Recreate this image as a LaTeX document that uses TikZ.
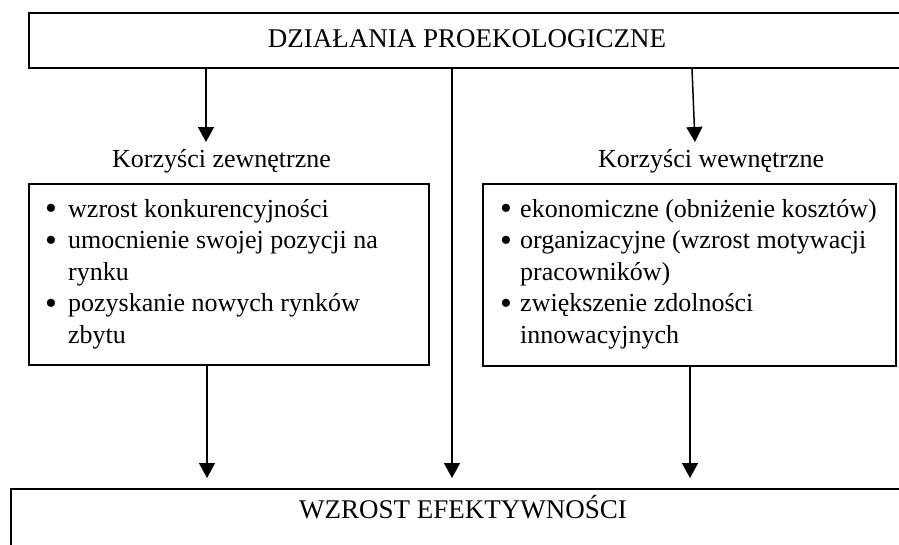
\documentclass[tikz,border=0pt]{standalone}
\usepackage{fontspec}
\usepackage{graphicx}
\setmainfont{Liberation Serif}
\usetikzlibrary{arrows.meta}
\newcommand{\bigbul}{\raisebox{-2.5pt}{\scalebox{1.3}{•}}}
\begin{document}
\begin{tikzpicture}[x=1pt,y=-1pt,
  box/.style={draw, line width=2pt, rectangle, inner sep=0pt, anchor=north west},
  head/.style={font=\fontsize{27}{32}\selectfont, inner sep=0pt, anchor=base},
  lab/.style={font=\fontsize{26}{31}\selectfont, inner sep=0pt, anchor=base west},
  list/.style={font=\fontsize{26}{31.5}\selectfont, inner sep=0pt, anchor=base west},
  arr/.style={line width=1.5pt, -{Triangle[length=15pt,width=16pt]}}]
\useasboundingbox (0,0) rectangle (899,544);
\clip (0,0) rectangle (899,544);
% boxes
\node[box, minimum width=940pt, minimum height=55pt] (top) at (28,12) {};
\node[box, minimum width=400pt, minimum height=181pt] (boxL) at (28,183) {};
\node[box, minimum width=413pt, minimum height=182pt] (boxR) at (482,183) {};
\node[box, minimum width=960pt, minimum height=100pt] (bot) at (10,488) {};
% texts
\node[head] (toptext) at (467,47) {DZIAŁANIA PROEKOLOGICZNE};
\node[head] (bottext) at (463,518) {WZROST EFEKTYWNOŚCI};
\node[lab] (labL) at (112,167) {Korzyści zewnętrzne};
\node[lab] (labR) at (598,167) {Korzyści wewnętrzne};
\node[list] (listL) at (45,217) {\begin{tabular}[t]{@{}p{23pt}@{}l@{}}
\bigbul & wzrost konkurencyjności\\
\bigbul & umocnienie swojej pozycji na\\
  & rynku\\
\bigbul & pozyskanie nowych rynków\\
  & zbytu
\end{tabular}};
\node[list] (listR) at (500,217) {\begin{tabular}[t]{@{}p{20pt}@{}l@{}}
\bigbul & ekonomiczne (obniżenie kosztów)\\
\bigbul & organizacyjne (wzrost motywacji\\
  & pracowników)\\
\bigbul & zwiększenie zdolności\\
  & innowacyjnych
\end{tabular}};
% arrow tips
\coordinate (tipL1) at (206,142);
\coordinate (tipR1) at (695,142);
\coordinate (tipM) at (452,478);
\coordinate (tipL2) at (207,478);
\coordinate (tipR2) at (690,478);
% connectors
\draw[arr] (top.south -| tipL1) -- (tipL1);
\draw[arr] ([xshift=-3pt]top.south -| tipR1) -- (tipR1);
\draw[arr] (top.south -| tipM) -- (tipM);
\draw[arr] (boxL.south -| tipL2) -- (tipL2);
\draw[arr] (boxR.south -| tipR2) -- (tipR2);
\end{tikzpicture}
\end{document}
